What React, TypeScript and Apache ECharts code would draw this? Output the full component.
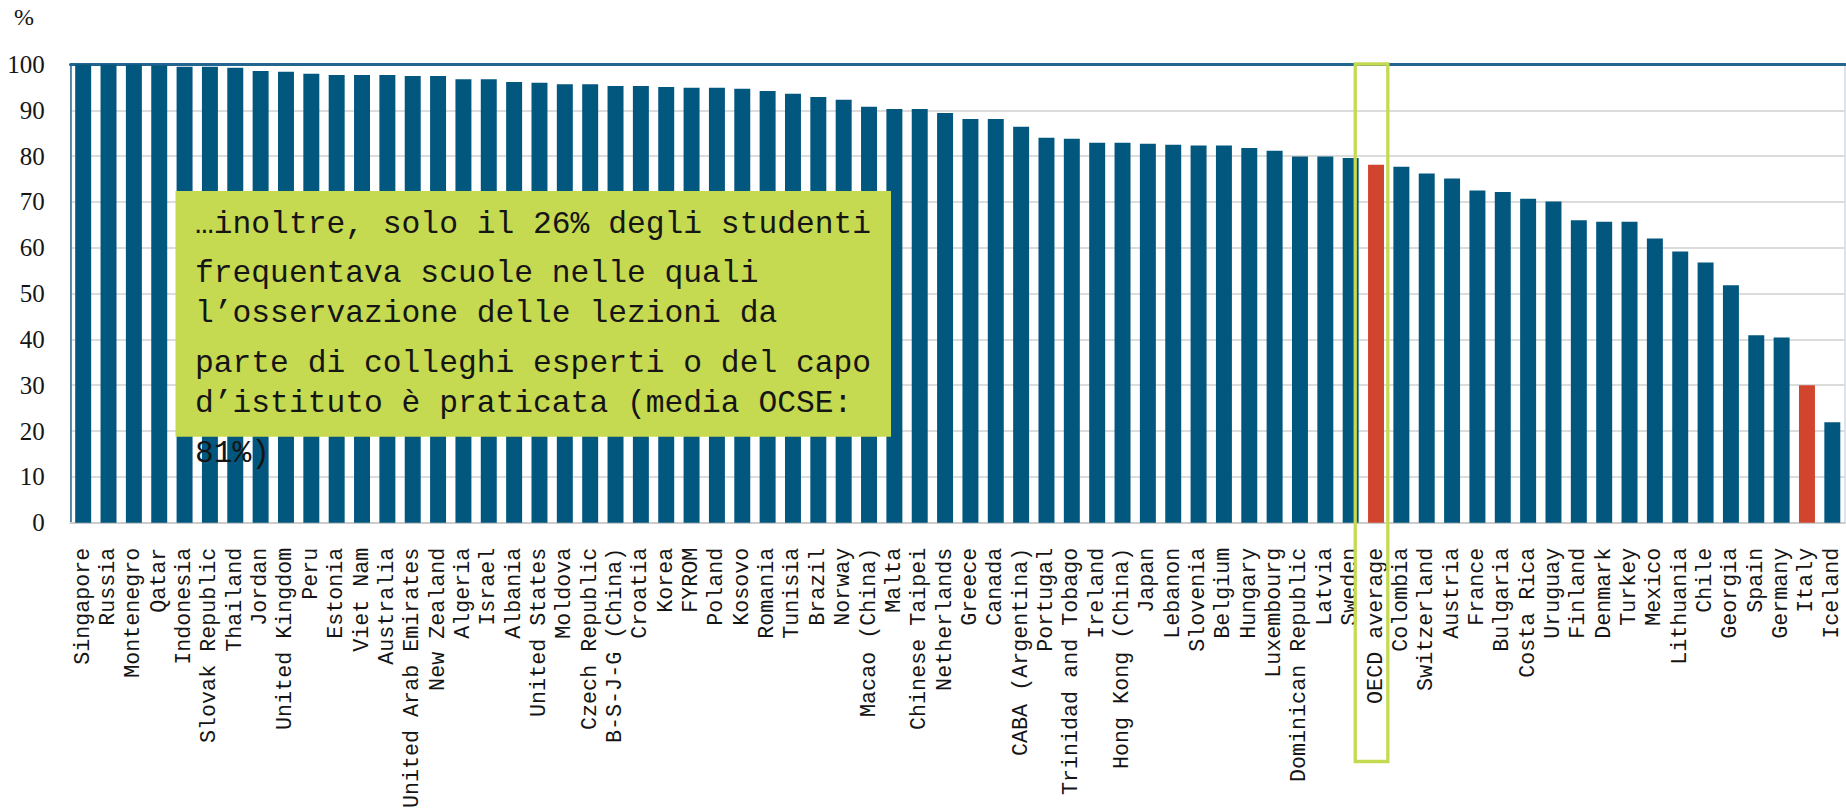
import React, { useEffect, useRef } from "react";
import * as echarts from "echarts";

const categories = [
  "Singapore", "Russia", "Montenegro", "Qatar", "Indonesia", "Slovak Republic", "Thailand", "Jordan",
  "United Kingdom", "Peru", "Estonia", "Viet Nam", "Australia", "United Arab Emirates", "New Zealand",
  "Algeria", "Israel", "Albania", "United States", "Moldova", "Czech Republic", "B-S-J-G (China)",
  "Croatia", "Korea", "FYROM", "Poland", "Kosovo", "Romania", "Tunisia", "Brazil", "Norway",
  "Macao (China)", "Malta", "Chinese Taipei", "Netherlands", "Greece", "Canada", "CABA (Argentina)",
  "Portugal", "Trinidad and Tobago", "Ireland", "Hong Kong (China)", "Japan", "Lebanon", "Slovenia",
  "Belgium", "Hungary", "Luxembourg", "Dominican Republic", "Latvia", "Sweden", "OECD average",
  "Colombia", "Switzerland", "Austria", "France", "Bulgaria", "Costa Rica", "Uruguay", "Finland",
  "Denmark", "Turkey", "Mexico", "Lithuania", "Chile", "Georgia", "Spain", "Germany", "Italy", "Iceland",
];

const values = [
  100, 100, 100, 99.8, 99.5, 99.5, 99.3, 98.6,
  98.4, 98.0, 97.7, 97.7, 97.7, 97.5, 97.5,
  96.8, 96.8, 96.2, 96.0, 95.7, 95.7, 95.3,
  95.3, 95.1, 94.9, 94.9, 94.7, 94.2, 93.6, 92.9, 92.3,
  90.8, 90.3, 90.3, 89.4, 88.1, 88.1, 86.4,
  84.0, 83.8, 82.9, 82.9, 82.7, 82.5, 82.3,
  82.3, 81.8, 81.2, 79.9, 79.9, 79.6, 78.1,
  77.7, 76.2, 75.1, 72.5, 72.2, 70.7, 70.1, 66.0,
  65.7, 65.7, 62.0, 59.2, 56.8, 51.8, 40.9, 40.4, 30.0, 21.9,
];

const highlightedNames = ["OECD average", "Italy"];
const boxedName = "OECD average";
const yUnit = "%";

const annotationLines = [
  "…inoltre, solo il 26% degli studenti",
  "frequentava scuole nelle quali",
  "l’osservazione delle lezioni da",
  "parte di colleghi esperti o del capo",
  "d’istituto è praticata (media OCSE:",
  "81%)",
];

const BLUE = "#02577f";
const RED = "#d1452f";
const GREEN = "#c5d951";
const TEXT = "#151515";
const SERIF = "'Liberation Serif'";
const MONO = "'Liberation Mono'";

export default function App() {
  const ref = useRef<HTMLDivElement>(null);

  useEffect(() => {
    if (!ref.current) return;
    const chart = echarts.init(ref.current, undefined, { renderer: "svg" });

    const lineTops = [224, 273, 313, 363, 403, 453];

    const option: any = {
      animation: false,
      backgroundColor: "#ffffff",
      grid: { left: 70.5, right: 1, top: 64.5, bottom: 287.7, containLabel: false, show: true, borderColor: "#b9c8d2", borderWidth: 1 },
      xAxis: [
        {
          type: "category",
          data: categories,
          axisTick: { show: false },
          axisLine: { show: true, lineStyle: { color: "#cccccc", width: 2 } },
          axisLabel: {
            interval: 0,
            rotate: 90,
            margin: 25,
            fontFamily: MONO,
            fontSize: 21.7,
            color: TEXT,
          },
        },
        {
          type: "category",
          position: "top",
          data: categories,
          axisTick: { show: false },
          axisLabel: { show: false },
          axisLine: { show: true, lineStyle: { color: "#22658f", width: 3 } },
        },
      ],
      yAxis: {
        type: "value",
        min: 0,
        max: 100,
        interval: 10,
        axisLine: { show: true, lineStyle: { color: "#2a6a93", width: 1.5 } },
        axisTick: { show: false },
        splitLine: { lineStyle: { color: "#dcdcdc", width: 2 } },
        axisLabel: { margin: 25.7, fontFamily: SERIF, fontSize: 25, color: TEXT },
      },
      series: [
        {
          type: "bar",
          xAxisIndex: 0,
          barCategoryGap: "37%",
          data: values.map((v, i) => ({
            value: v,
            itemStyle: { color: highlightedNames.includes(categories[i]) ? RED : BLUE },
          })),
        },
      ],
      graphic: [
        {
          type: "text",
          id: "unit",
          left: 14,
          top: 5,
          z: 100,
          style: { text: yUnit, fontFamily: SERIF, fontSize: 24, fill: TEXT },
        },
        {
          type: "rect",
          id: "note-bg",
          z: 100,
          shape: { x: 175.5, y: 191, width: 715.5, height: 245.7 },
          style: { fill: GREEN },
        },
        ...annotationLines.map((line, i) => ({
          type: "text",
          id: "note-" + i,
          z: 101,
          x: 195,
          y: lineTops[i],
          style: {
            text: line,
            fontFamily: MONO,
            fontSize: 31.3,
            fill: TEXT,
            verticalAlign: "middle",
            align: "left",
          },
        })),
      ],
    };

    chart.setOption(option);

    const idx = categories.indexOf(boxedName);
    const cx = chart.convertToPixel({ xAxisIndex: 0 }, idx) as number;
    const topY = chart.convertToPixel({ yAxisIndex: 0 }, 100) as number;
    const rw = 32.6;
    chart.setOption({
      graphic: [
        {
          type: "rect",
          id: "oecd-box",
          z: 102,
          shape: { x: cx - 4.5 - rw / 2, y: topY - 0.5, width: rw, height: 761.5 - (topY - 0.5) },
          style: { fill: "none", stroke: GREEN, lineWidth: 3.3 },
        },
      ],
    });

    return () => chart.dispose();
  }, []);

  return (
    <div
      ref={ref}
      style={{ position: "fixed", left: 0, top: 0, width: 1846, height: 811, background: "#fff" }}
    />
  );
}
